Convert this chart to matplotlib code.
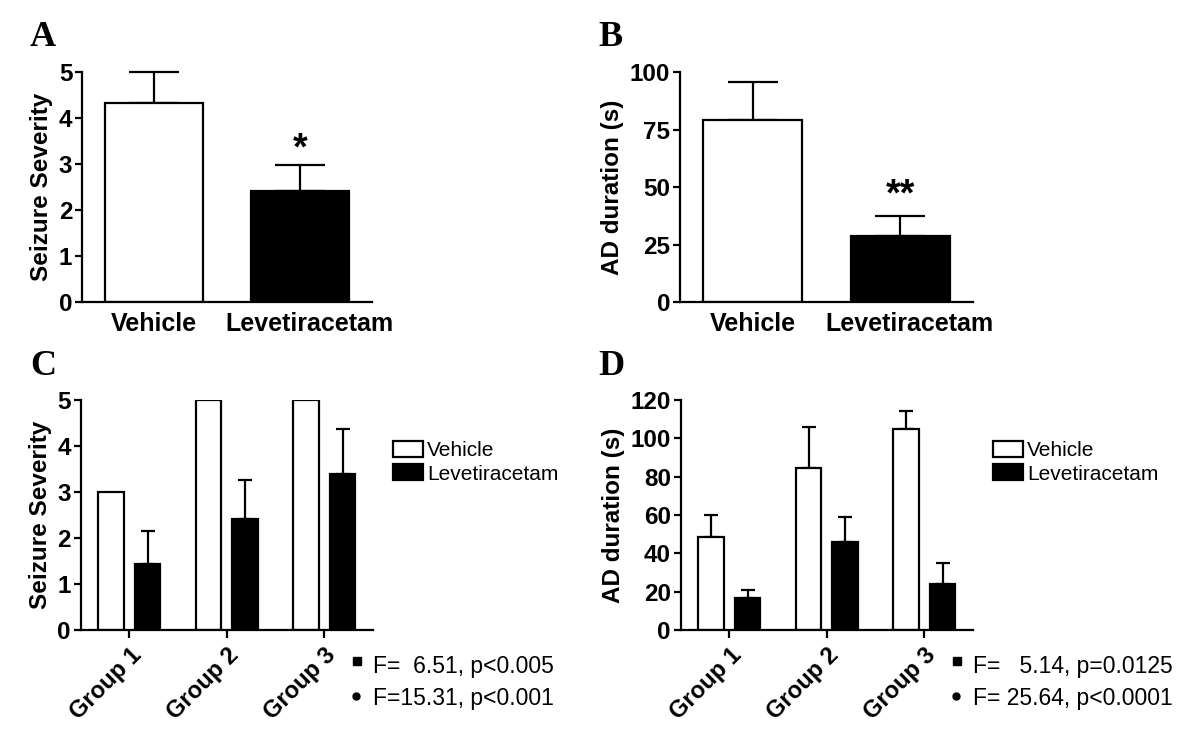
import matplotlib
matplotlib.use("Agg")
from matplotlib import pyplot as plt
from matplotlib.patches import Patch
from matplotlib.lines import Line2D
import numpy as np

plt.rcParams['font.family'] = ['Liberation Sans', 'DejaVu Sans']

# panel A / B
treat = ['Vehicle', 'Levetiracetam']
sev_mean = [4.33, 2.41]
sev_err = [0.67, 0.57]
ad_mean = [79.1, 28.7]
ad_err = [16.6, 8.5]

# panel C / D
groups = ['Group 1', 'Group 2', 'Group 3']
sev_veh = [3.0, 5.0, 5.0]
sev_veh_err = [0.0, 0.0, 0.0]
sev_lev = [1.43, 2.41, 3.40]
sev_lev_err = [0.72, 0.85, 0.98]
ad_veh = [48.3, 84.5, 104.7]
ad_veh_err = [11.5, 21.2, 9.7]
ad_lev = [16.9, 45.9, 23.8]
ad_lev_err = [3.8, 12.9, 11.3]

stats_c = ['F=  6.51, p<0.005', 'F=15.31, p<0.001']
stats_d = ['F=   5.14, p=0.0125', 'F= 25.64, p<0.0001']

fig = plt.figure(figsize=(12, 7.4), dpi=100)
W, H = 1200, 740

def style(ax):
    for s in ['top', 'right']:
        ax.spines[s].set_visible(False)
    for s in ['left', 'bottom']:
        ax.spines[s].set_linewidth(1.6)
    ax.tick_params(axis='y', width=1.6, length=5, labelsize=17.5, pad=2)
    for lab in ax.get_yticklabels():
        lab.set_fontweight('bold')

def two_bar(ax, mean, err, ylim, yticks, ylabel, star, star_y):
    x = np.arange(2)
    ax.bar(x, mean, width=0.67, color=['white', 'black'], edgecolor='black',
           linewidth=1.6, zorder=2)
    ax.errorbar(x, mean, yerr=[np.zeros(2), err], fmt='none', ecolor='black',
                elinewidth=1.6, capsize=18, capthick=1.6, zorder=1, clip_on=False)
    ax.set_xlim(-0.49, 1.49)
    ax.set_ylim(*ylim)
    ax.set_yticks(yticks)
    # labels sit a little right of the second bar in the original
    ax.set_xticks([0, 1.06])
    ax.set_xticklabels(treat, fontsize=18, fontweight='bold')
    ax.tick_params(axis='x', length=0, pad=7)
    ax.set_ylabel(ylabel, fontsize=17.5, fontweight='bold', labelpad=4)
    style(ax)
    ax.text(1, star_y, star, ha='center', va='center', fontsize=27, fontweight='bold')

def group_bar(ax, veh, veh_err, lev, lev_err, ylim, yticks, ylabel, cap):
    x = np.arange(3)
    off = 0.187
    w = 0.262
    ax.bar(x - off, veh, width=w, color='white', edgecolor='black', linewidth=1.6,
           zorder=2, label='Vehicle')
    ax.bar(x + off, lev, width=w, color='black', edgecolor='black', linewidth=1.6,
           zorder=2, label='Levetiracetam')
    ve = np.array(veh_err)
    m = ve > 0
    if m.any():
        ax.errorbar((x - off)[m], np.array(veh)[m], yerr=[np.zeros(m.sum()), ve[m]],
                    fmt='none', ecolor='black', elinewidth=1.6, capsize=cap,
                    capthick=1.6, zorder=1)
    ax.errorbar(x + off, lev, yerr=[np.zeros(3), lev_err], fmt='none', ecolor='black',
                elinewidth=1.6, capsize=cap, capthick=1.6, zorder=1)
    ax.set_xlim(-0.5, 2.5)
    ax.set_ylim(*ylim)
    ax.set_yticks(yticks)
    ax.set_xticks(x)
    ax.set_xticklabels(groups, fontsize=17, fontweight='bold', rotation=45,
                       ha='right', rotation_mode='anchor')
    ax.tick_params(axis='x', width=1.6, length=6, pad=4)
    ax.set_ylabel(ylabel, fontsize=17.5, fontweight='bold', labelpad=4)
    style(ax)

axA = fig.add_axes([82 / W, 1 - 302 / H, 290 / W, 230 / H])
two_bar(axA, sev_mean, sev_err, (0, 5), range(6), 'Seizure Severity', '*', 3.32)

axB = fig.add_axes([680 / W, 1 - 302 / H, 293 / W, 230 / H])
two_bar(axB, ad_mean, ad_err, (0, 100), [0, 25, 50, 75, 100], 'AD duration (s)', '**', 46.5)

axC = fig.add_axes([80.7 / W, 1 - 630 / H, 292.3 / W, 230 / H])
group_bar(axC, sev_veh, sev_veh_err, sev_lev, sev_lev_err, (0, 5), range(6),
          'Seizure Severity', 5)

axD = fig.add_axes([680.7 / W, 1 - 630 / H, 292.3 / W, 230 / H])
group_bar(axD, ad_veh, ad_veh_err, ad_lev, ad_lev_err, (0, 120), range(0, 121, 20),
          'AD duration (s)', 5)

for lx in [393, 993]:
    handles = [Patch(facecolor='white', edgecolor='black', linewidth=1.6),
               Patch(facecolor='black', edgecolor='black', linewidth=1.6)]
    fig.legend(handles, ['Vehicle', 'Levetiracetam'], loc='upper left',
               bbox_to_anchor=(lx / W, 1 - 441 / H), frameon=False,
               fontsize=15, handlelength=1.45, handleheight=0.8, handletextpad=0.2,
               labelspacing=0.2, borderpad=0, borderaxespad=0)

for lines, sx in [(stats_c, 373), (stats_d, 973)]:
    fig.text(sx / W, 1 - 673 / H, lines[0], fontsize=16.5, va='baseline')
    fig.text(sx / W, 1 - 705 / H, lines[1], fontsize=16.5, va='baseline')
    fig.add_artist(Line2D([(sx - 16) / W], [1 - 661 / H], marker='s', markersize=6,
                          color='black', linestyle='none'))
    fig.add_artist(Line2D([(sx - 17) / W], [1 - 696 / H], marker='o', markersize=5,
                          color='black', linestyle='none'))

for letter, px, py in [('A', 30, 37), ('B', 598, 37), ('C', 30, 366), ('D', 598, 366)]:
    fig.text(px / W, 1 - py / H, letter, fontsize=26, fontweight='bold',
             family='Liberation Serif', va='center', ha='left')

fig.savefig('out.png', dpi=100)
